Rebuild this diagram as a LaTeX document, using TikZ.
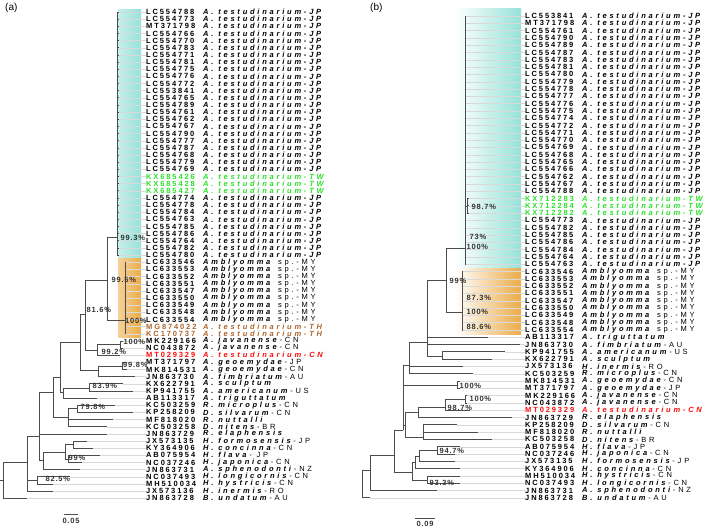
\documentclass[tikz,border=0pt]{standalone}
\usepackage{fontspec}
\setmainfont{Liberation Sans}
\newfontfamily\accfont[LetterSpace=25]{Liberation Sans}
\newfontfamily\spfont[LetterSpace=37]{Liberation Sans}
\newfontfamily\bootfont[LetterSpace=10]{Liberation Sans}
\definecolor{cyanbox}{RGB}{150,226,216}
\definecolor{orangebox}{RGB}{236,172,72}
\definecolor{twgreen}{RGB}{40,225,40}
\definecolor{thbrown}{RGB}{172,100,45}
\definecolor{cnred}{RGB}{255,10,10}
\begin{document}
\begin{tikzpicture}[x=1pt,y=-1pt,
  br/.style={draw=black!70,line width=0.7pt},
  lead/.style={draw=black!15,line width=0.4pt},
  acc/.style={font=\accfont\bfseries\fontsize{7.5}{8}\selectfont,anchor=west,inner sep=0pt},
  spc/.style={font=\spfont\fontsize{7.5}{8}\selectfont,anchor=west,inner sep=0pt},
  boot/.style={font=\bootfont\bfseries\fontsize{7.5}{8}\selectfont,anchor=west,inner sep=0.5pt,text=black!80},
  panel/.style={font=\fontsize{10}{12}\selectfont,anchor=north west,inner sep=0pt}]
  \useasboundingbox (0,0) rectangle (709,530);

  \fill[left color=cyanbox!55,right color=cyanbox] (118,9) rectangle (141,258.5);
  \fill[left color=orangebox!55,right color=orangebox] (118,258.5) rectangle (141,337.5);
  \fill[left color=white,right color=cyanbox] (455,8) rectangle (521,268);
  \fill[left color=white,right color=orangebox] (455,268) rectangle (521,334);

  \node[panel] (pa) at (5,3) {(a)};
  \node[panel] (pb) at (370,3) {(b)};

  % (a) leaves
  \foreach \acc/\nm/\sfx/\col/\tip [count=\i] in {
    LC554788/A. testudinarium-JP/{}/black/118.5, LC554773/A. testudinarium-JP/{}/black/118.5,
    MT371798/A. testudinarium-JP/{}/black/118.5, LC554766/A. testudinarium-JP/{}/black/118.5,
    LC554770/A. testudinarium-JP/{}/black/118.5, LC554783/A. testudinarium-JP/{}/black/118.5,
    LC554771/A. testudinarium-JP/{}/black/118.5, LC554781/A. testudinarium-JP/{}/black/118.5,
    LC554775/A. testudinarium-JP/{}/black/118.5, LC554776/A. testudinarium-JP/{}/black/118.5,
    LC554772/A. testudinarium-JP/{}/black/118.5, LC553841/A. testudinarium-JP/{}/black/118.5,
    LC554765/A. testudinarium-JP/{}/black/118.5, LC554789/A. testudinarium-JP/{}/black/118.5,
    LC554761/A. testudinarium-JP/{}/black/118.5, LC554762/A. testudinarium-JP/{}/black/118.5,
    LC554767/A. testudinarium-JP/{}/black/118.5, LC554790/A. testudinarium-JP/{}/black/118.5,
    LC554777/A. testudinarium-JP/{}/black/118.5, LC554787/A. testudinarium-JP/{}/black/118.5,
    LC554768/A. testudinarium-JP/{}/black/118.5, LC554779/A. testudinarium-JP/{}/black/118.5,
    LC554769/A. testudinarium-JP/{}/black/118.5,
    KX685426/A. testudinarium-TW/{}/twgreen/118.5, KX685428/A. testudinarium-TW/{}/twgreen/118.5,
    KX685427/A. testudinarium-TW/{}/twgreen/118.5,
    LC554774/A. testudinarium-JP/{}/black/118.5, LC554778/A. testudinarium-JP/{}/black/118.5,
    LC554784/A. testudinarium-JP/{}/black/118.5, LC554763/A. testudinarium-JP/{}/black/118.5,
    LC554785/A. testudinarium-JP/{}/black/118.5, LC554786/A. testudinarium-JP/{}/black/118.5,
    LC554764/A. testudinarium-JP/{}/black/118.5, LC554782/A. testudinarium-JP/{}/black/118.5,
    LC554780/A. testudinarium-JP/{}/black/118.5,
    LC633546/Amblyomma/~sp.-MY/black/126, LC633553/Amblyomma/~sp.-MY/black/126,
    LC633552/Amblyomma/~sp.-MY/black/126, LC633551/Amblyomma/~sp.-MY/black/126,
    LC633547/Amblyomma/~sp.-MY/black/126, LC633550/Amblyomma/~sp.-MY/black/126,
    LC633549/Amblyomma/~sp.-MY/black/126, LC633548/Amblyomma/~sp.-MY/black/126,
    LC633554/Amblyomma/~sp.-MY/black/126,
    MG874022/A. testudinarium-TH/{}/thbrown/126, KC170737/A. testudinarium-TH/{}/thbrown/126,
    MK229166/A. javanense/-CN/black/123, NC043872/A. javanense/-CN/black/123,
    MT029329/A. testudinarium-CN/{}/cnred/120,
    MT371797/A. geoemydae/-JP/black/127, MK814531/A. geoemydae/-CN/black/127,
    JN863730/A. fimbriatum/-AU/black/135, KX622791/A. sculptum/{}/black/123,
    KP941755/A. americanum/-US/black/133, AB113317/A. triguttatum/{}/black/97,
    KC503259/R. microplus/-CN/black/115, KP258209/D. silvarum/-CN/black/133,
    MF818020/R. nuttalli/{}/black/113, KC503258/D. nitens/-BR/black/107,
    JN863729/R. elaphensis/{}/black/107, JX573135/H. formosensis/-JP/black/87,
    KY364906/H. concinna/-CN/black/93, AB075954/H. flava/- JP/black/100,
    NC037246/H. japonica/-CN/black/82, JN863731/A. sphenodonti/-NZ/black/80,
    NC037493/H. longicornis/-CN/black/70, MH510034/H. hystricis/-CN/black/53,
    JX573136/H. inermis/-RO/black/53, JN863728/B. undatum/-AU/black/27}{
    \pgfmathsetmacro\yy{12+(\i-1)*7.15}
    \coordinate (L\i) at (\tip,\yy);
    \node[acc,text=\col] (la\i) at (146,\yy) {\acc};
    \node[spc,text=\col] (ls\i) at (203,\yy) {\textbf{\textit{\nm}}\sfx};
    \draw[lead] (L\i) -- (la\i.west);
  }

  % (a) tree
  \coordinate (aJP) at (117,237);
  \foreach \c in {1,...,35} \draw[br] (aJP) |- (L\c);
  \coordinate (aMY) at (125,320);
  \foreach \c in {36,...,46} \draw[br] (aMY) |- (L\c);
  \coordinate (aTT) at (107,280);
  \draw[br] (aTT) |- (aJP) (aTT) |- (aMY);
  \coordinate (aJV2) at (120,344.5);
  \draw[br] (aJV2) |- (L47) (aJV2) |- (L48);
  \coordinate (aJV) at (97,350);
  \draw[br] (aJV) |- (aJV2) (aJV) |- (L49);
  \coordinate (aB) at (85,314);
  \draw[br] (aB) |- (aTT) (aB) |- (aJV);
  \coordinate (aGE) at (122,366);
  \draw[br] (aGE) |- (L50) (aGE) |- (L51);
  \coordinate (aGF) at (98,370);
  \draw[br] (aGF) |- (aGE) (aGF) |- (L52);
  \coordinate (aN80) at (80,342);
  \draw[br] (aN80) |- (aB) (aN80) |- (aGF);
  \coordinate (aSA) at (89,388);
  \draw[br] (aSA) |- (L53) (aSA) |- (L54);
  \coordinate (aSAT) at (63,392);
  \draw[br] (aSAT) |- (aSA) (aSAT) |- (L55);
  \coordinate (aC) at (60,377);
  \draw[br] (aC) |- (aN80) (aC) |- (aSAT);
  \coordinate (aMP) at (77,408);
  \draw[br] (aMP) |- (L56) (aMP) |- (L57);
  \coordinate (aMG) at (68,417);
  \draw[br] (aMG) |- (aMP) (aMG) |- (L58) (aMG) |- (L59);
  \coordinate (aD) at (53,392);
  \draw[br] (aD) |- (aC) (aD) |- (aMG);
  \coordinate (aJK) at (73,444);
  \draw[br] (aJK) |- (L61) (aJK) |- (L62);
  \coordinate (aAN) at (68,459);
  \draw[br] (aAN) |- (L63) (aAN) |- (L64);
  \coordinate (aF) at (65,452);
  \draw[br] (aF) |- (aJK) (aF) |- (aAN);
  \coordinate (aG) at (43,460);
  \draw[br] (aG) |- (aF) (aG) |- (L65);
  \coordinate (aE) at (39,436);
  \draw[br] (aE) |- (aD) (aE) |- (L60) (aE) |- (aG);
  \coordinate (aHH) at (37,480);
  \draw[br] (aHH) |- (L66) (aHH) |- (L67);
  \coordinate (aH) at (27,462);
  \draw[br] (aH) |- (aE) (aH) |- (aHH) (aH) |- (L68);
  \coordinate (aRT) at (3,480);
  \coordinate (aR0) at (0,480);
  \draw[br] (aRT) |- (aH) (aRT) |- (L69) (aR0) -- (aRT);

  \node[boot] (b1) at (120,238) {99.3\%};
  \node[boot] (b2) at (111,280) {99.5\%};
  \node[boot] (b3) at (86,310) {81.6\%};
  \node[boot] (b4) at (124.5,321) {100\%};
  \node[boot] (b5) at (123,342) {100\%};
  \node[boot] (b6) at (101,352) {99.2\%};
  \node[boot] (b7) at (122.5,365) {99.8\%};
  \node[boot] (b8) at (92,386) {83.9\%};
  \node[boot] (b9) at (80,407) {79.8\%};
  \node[boot] (b10) at (68,458) {99\%};
  \node[boot] (b11) at (45,479) {82.5\%};

  \coordinate (sa1) at (64,514);
  \coordinate (sa2) at (78,514);
  \draw[br] (sa1) -- (sa2) node[midway,below=3pt,boot,anchor=north] {0.05};

  % (b) leaves
  \foreach \acc/\nm/\sfx/\col/\tip [count=\i] in {
    LC553841/A. testudinarium-JP/{}/black/466, MT371798/A. testudinarium-JP/{}/black/466,
    LC554761/A. testudinarium-JP/{}/black/466, LC554790/A. testudinarium-JP/{}/black/466,
    LC554789/A. testudinarium-JP/{}/black/466, LC554787/A. testudinarium-JP/{}/black/466,
    LC554783/A. testudinarium-JP/{}/black/466, LC554781/A. testudinarium-JP/{}/black/466,
    LC554780/A. testudinarium-JP/{}/black/466, LC554779/A. testudinarium-JP/{}/black/466,
    LC554778/A. testudinarium-JP/{}/black/466, LC554777/A. testudinarium-JP/{}/black/466,
    LC554776/A. testudinarium-JP/{}/black/466, LC554775/A. testudinarium-JP/{}/black/466,
    LC554774/A. testudinarium-JP/{}/black/466, LC554772/A. testudinarium-JP/{}/black/466,
    LC554771/A. testudinarium-JP/{}/black/466, LC554770/A. testudinarium-JP/{}/black/466,
    LC554769/A. testudinarium-JP/{}/black/466, LC554768/A. testudinarium-JP/{}/black/466,
    LC554765/A. testudinarium-JP/{}/black/466, LC554766/A. testudinarium-JP/{}/black/466,
    LC554762/A. testudinarium-JP/{}/black/466, LC554767/A. testudinarium-JP/{}/black/466,
    LC554788/A. testudinarium-JP/{}/black/466,
    KX712283/A. testudinarium-TW/{}/twgreen/469, KX712284/A. testudinarium-TW/{}/twgreen/469,
    KX712282/A. testudinarium-TW/{}/twgreen/469,
    LC554773/A. testudinarium-JP/{}/black/466, LC554782/A. testudinarium-JP/{}/black/466,
    LC554785/A. testudinarium-JP/{}/black/466, LC554786/A. testudinarium-JP/{}/black/466,
    LC554784/A. testudinarium-JP/{}/black/466, LC554764/A. testudinarium-JP/{}/black/466,
    LC554763/A. testudinarium-JP/{}/black/466,
    LC633546/Amblyomma/~sp.-MY/black/463, LC633553/Amblyomma/~sp.-MY/black/463,
    LC633552/Amblyomma/~sp.-MY/black/463, LC633551/Amblyomma/~sp.-MY/black/463,
    LC633547/Amblyomma/~sp.-MY/black/463, LC633550/Amblyomma/~sp.-MY/black/463,
    LC633549/Amblyomma/~sp.-MY/black/463, LC633548/Amblyomma/~sp.-MY/black/463,
    LC633554/Amblyomma/~sp.-MY/black/463,
    AB113317/A. triguttatum/{}/black/488, JN863730/A. fimbriatum/-AU/black/520,
    KP941755/A. americanum/-US/black/505, KX622791/A. sculptum/{}/black/492,
    JX573136/H. inermis/-RO/black/463, KC503259/R. microplus/-CN/black/473,
    MK814531/A. geoemydae/-CN/black/460, MT371797/A. geoemydae/-JP/black/460,
    MK229166/A. javanense/-CN/black/467, NC043872/A. javanense/-CN/black/467,
    MT029329/A. testudinarium-CN/{}/cnred/470, JN863729/R. elaphensis/{}/black/512,
    KP258209/D. silvarum/-CN/black/457, MF818020/R. nuttalli/{}/black/478,
    KC503258/D. nitens/-BR/black/492, AB075954/H. flava/-JP/black/460,
    NC037246/H. japonica/-CN/black/455, JX573135/H. formosensis/-JP/black/455,
    KY364906/H. concinna/-CN/black/460, MH510034/H. hystricis/-CN/black/460,
    NC037493/H. longicornis/-CN/black/460, JN863731/A. sphenodonti/-NZ/black/437,
    JN863728/B. undatum/-AU/black/370}{
    \pgfmathsetmacro\yy{16+(\i-1)*7.3}
    \coordinate (R\i) at (\tip,\yy);
    \node[acc,text=\col] (ra\i) at (525,\yy) {\acc};
    \node[spc,text=\col] (rs\i) at (582,\yy) {\textbf{\textit{\nm}}\sfx};
    \draw[lead] (R\i) -- (ra\i.west);
  }

  % (b) tree
  \coordinate (bTW) at (467,206);
  \foreach \c in {26,27,28} \draw[br] (bTW) |- (R\c);
  \coordinate (bJP) at (465,248);
  \foreach \c in {1,...,25,29,30,...,35} \draw[br] (bJP) |- (R\c);
  \draw[br] (bJP) |- (bTW);
  \coordinate (bMY) at (462,312);
  \foreach \c in {36,...,44} \draw[br] (bMY) |- (R\c);
  \coordinate (bA) at (446,280);
  \draw[br] (bA) |- (bJP) (bA) |- (bMY);
  \coordinate (bKK) at (442,356);
  \draw[br] (bKK) |- (R47) (bKK) |- (R48);
  \coordinate (bB) at (427,342);
  \draw[br] (bB) |- (bA) (bB) |- (R45) (bB) |- (R46) (bB) |- (bKK);
  \coordinate (bC) at (409,365);
  \draw[br] (bC) |- (bB) (bC) |- (R49) (bC) |- (R50);
  \coordinate (bGE) at (457,385);
  \draw[br] (bGE) |- (R51) (bGE) |- (R52);
  \coordinate (bJV2) at (465,399);
  \draw[br] (bJV2) |- (R53) (bJV2) |- (R54);
  \coordinate (bJV) at (445,407);
  \draw[br] (bJV) |- (bJV2) (bJV) |- (R55);
  \coordinate (bEL) at (418,412);
  \draw[br] (bEL) |- (bJV) (bEL) |- (R56);
  \coordinate (bDM) at (423,437);
  \draw[br] (bDM) |- (R57) (bDM) |- (R58) (bDM) |- (R59);
  \coordinate (bED) at (405,425);
  \draw[br] (bED) |- (bEL) (bED) |- (bDM);
  \coordinate (bQ) at (403,430);
  \draw[br] (bQ) |- (bC) (bQ) |- (bGE) (bQ) |- (bED);
  \coordinate (bFJ) at (437,450);
  \draw[br] (bFJ) |- (R60) (bFJ) |- (R61);
  \coordinate (bHX) at (419,456);
  \draw[br] (bHX) |- (bFJ) (bHX) |- (R62);
  \coordinate (bHY) at (415,462);
  \draw[br] (bHY) |- (bHX) (bHY) |- (R63);
  \coordinate (bHM) at (427,480);
  \draw[br] (bHM) |- (R64) (bHM) |- (R65);
  \coordinate (bHH) at (412,472);
  \draw[br] (bHH) |- (bHY) (bHH) |- (bHM);
  \coordinate (bR) at (394,455);
  \draw[br] (bR) |- (bQ) (bR) |- (bHH);
  \coordinate (bS) at (370,470);
  \draw[br] (bS) |- (bR) (bS) |- (R66);
  \coordinate (bRT) at (362,485);
  \draw[br] (bRT) |- (bS) (bRT) |- (R67);

  \node[boot] (c1) at (471,207) {98.7\%};
  \node[boot] (c2) at (469,237) {73\%};
  \node[boot] (c3) at (466,247) {100\%};
  \node[boot] (c4) at (449,281) {99\%};
  \node[boot] (c5) at (466,298) {87.3\%};
  \node[boot] (c6) at (466,312) {100\%};
  \node[boot] (c7) at (466,327) {88.6\%};
  \node[boot] (c8) at (459,386) {100\%};
  \node[boot] (c9) at (469,399) {100\%};
  \node[boot] (c10) at (447,408) {98.7\%};
  \node[boot] (c11) at (439,451) {94.7\%};
  \node[boot] (c12) at (429,483) {93.3\%};

  \coordinate (sb1) at (415,518);
  \coordinate (sb2) at (435,518);
  \draw[br] (sb1) -- (sb2) node[midway,below=2pt,boot,anchor=north] {0.09};
\end{tikzpicture}
\end{document}
